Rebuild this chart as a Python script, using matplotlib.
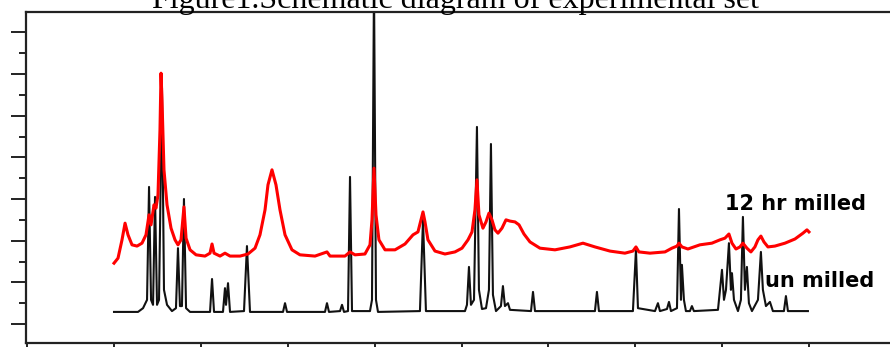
import matplotlib
matplotlib.use("Agg")

import matplotlib.pyplot as plt
from matplotlib.ticker import MultipleLocator, NullFormatter

# 2theta (deg) / intensity (a.u.)
unmilled_2theta = [
    10.00, 12.76, 13.34, 13.80, 14.03, 14.26, 14.49, 14.72, 14.95, 15.18,
    15.52, 15.75, 16.10, 16.67, 17.13, 17.36, 17.59, 17.82, 18.05, 18.29,
    18.75, 21.05, 21.28, 21.51, 22.54, 22.77, 22.89, 23.12, 23.35, 24.96,
    25.30, 25.65, 29.45, 29.68, 29.91, 34.28, 34.51, 34.74, 36.01, 36.24,
    36.47, 36.93, 37.16, 37.39, 39.46, 39.69, 39.92, 40.15, 40.38, 45.21,
    45.56, 45.90, 50.39, 50.62, 50.85, 51.08, 51.43, 51.77, 52.00, 52.35,
    52.81, 53.15, 53.38, 53.61, 53.96, 54.53, 54.76, 54.99, 55.34, 55.57,
    57.99, 58.22, 58.45, 65.35, 65.58, 65.81, 69.72, 70.07, 70.30, 72.26,
    72.60, 72.83, 73.64, 73.87, 74.10, 74.79, 75.02, 75.25, 75.36, 75.59,
    75.82, 76.28, 76.51, 76.74, 79.51, 79.74, 79.97, 80.20, 80.43, 80.77,
    81.00, 81.12, 81.35, 81.81, 82.15, 82.38, 82.61, 82.84, 83.07, 83.42,
    84.11, 84.45, 84.68, 85.03, 85.49, 85.83, 87.10, 87.33, 87.56, 89.86,
]
unmilled_int = [
    29, 29, 38, 58, 329, 58, 46, 305, 46, 58,
    566, 82, 46, 31, 38, 182, 43, 43, 300, 38,
    29, 29, 108, 29, 29, 86, 46, 98, 29, 31,
    187, 29, 29, 50, 29, 29, 50, 29, 31, 46,
    29, 31, 353, 31, 31, 58, 820, 58, 29, 31,
    250, 31, 31, 46, 137, 46, 58, 473, 82, 36,
    38, 82, 432, 70, 31, 43, 91, 43, 50, 34,
    31, 77, 31, 31, 77, 31, 31, 178, 38, 31,
    50, 31, 36, 53, 31, 38, 276, 58, 142, 58,
    31, 31, 43, 31, 34, 82, 130, 58, 82, 194,
    82, 122, 58, 31, 58, 257, 82, 137, 50, 31,
    58, 173, 82, 43, 53, 31, 31, 67, 31, 31,
]

milled_2theta = [
    10.00, 10.46, 10.92, 11.27, 11.61, 12.07, 12.65, 13.22, 13.68, 14.03,
    14.26, 14.60, 14.83, 15.06, 15.29, 15.41, 15.52, 15.75, 16.10, 16.56,
    17.02, 17.36, 17.71, 18.05, 18.29, 18.75, 19.44, 20.47, 21.05, 21.28,
    21.51, 22.20, 22.77, 23.35, 24.50, 25.42, 26.23, 26.80, 27.38, 27.72,
    28.18, 28.64, 29.10, 29.68, 30.48, 31.40, 33.13, 34.51, 34.86, 36.58,
    37.16, 37.73, 38.88, 39.46, 39.69, 39.92, 40.15, 40.49, 41.19, 42.34,
    43.49, 44.41, 44.98, 45.33, 45.56, 45.79, 46.13, 46.94, 48.09, 49.24,
    50.05, 50.74, 51.20, 51.54, 51.77, 52.00, 52.46, 52.81, 53.15, 53.50,
    53.84, 54.19, 54.65, 55.11, 55.57, 56.15, 56.61, 57.18, 57.87, 59.02,
    60.75, 62.47, 63.97, 65.35, 67.08, 68.80, 69.72, 70.07, 70.41, 71.68,
    73.41, 74.21, 74.79, 75.02, 75.36, 76.05, 77.43, 78.81, 79.74, 80.31,
    80.77, 81.12, 81.58, 82.04, 82.38, 82.84, 83.30, 83.76, 84.11, 84.45,
    84.80, 85.26, 86.06, 87.22, 88.37, 89.29, 89.75, 89.98,
]
milled_int = [
    146, 158, 202, 242, 214, 190, 187, 194, 214, 262,
    238, 286, 278, 310, 466, 602, 538, 370, 286, 230,
    202, 190, 202, 281, 206, 178, 166, 163, 170, 192,
    170, 163, 170, 163, 163, 168, 182, 214, 274, 334,
    370, 334, 274, 214, 178, 166, 163, 173, 163, 163,
    173, 166, 168, 190, 250, 374, 262, 202, 178, 178,
    192, 214, 221, 250, 269, 245, 202, 175, 168, 173,
    182, 202, 221, 274, 346, 262, 230, 245, 266, 250,
    226, 218, 230, 250, 247, 245, 238, 216, 197, 182,
    178, 185, 194, 185, 175, 170, 175, 185, 173, 170,
    173, 182, 187, 194, 185, 180, 190, 194, 202, 206,
    216, 194, 180, 185, 194, 182, 173, 185, 202, 211,
    197, 185, 187, 194, 204, 218, 226, 221,
]

plt.rcParams['font.family'] = ['DejaVu Sans']

fig = plt.figure(figsize=(8.9, 3.47), dpi=100)
ax = fig.add_axes([26 / 890, 4 / 347, 1.0, 331 / 347])

ax.plot(unmilled_2theta, unmilled_int, color="#111111", lw=1.5)
ax.plot(milled_2theta, milled_int, color="#ff0000", lw=2.2)

ax.set_xlim(-0.13, 102.3)
ax.set_ylim(-45.6, 748.8)

ax.xaxis.set_major_locator(MultipleLocator(10))
ax.yaxis.set_major_locator(MultipleLocator(100))
ax.yaxis.set_minor_locator(MultipleLocator(50))
ax.xaxis.set_major_formatter(NullFormatter())
ax.yaxis.set_major_formatter(NullFormatter())
ax.tick_params(axis="y", which="major", direction="out", length=11, width=1.4, color="#222222")
ax.tick_params(axis="y", which="minor", direction="out", length=5, width=1.4, color="#222222")
ax.tick_params(axis="x", which="major", direction="out", length=4, width=1.4, color="#222222")

for side in ["left", "bottom", "top"]:
    ax.spines[side].set_linewidth(1.6)
    ax.spines[side].set_color("#222222")
ax.spines["right"].set_visible(False)

ax.text(80.3, 288, "12 hr milled", fontsize=15, fontweight="bold",
        va="center", ha="left", clip_on=False)
ax.text(84.9, 104, "un milled", fontsize=15, fontweight="bold",
        va="center", ha="left", clip_on=False)

fig.text(455 / 890, 1 - 8 / 347, "Figure1.Schematic diagram of experimental set",
         family="Liberation Serif", fontsize=23, ha="center", va="baseline")

fig.savefig("out.png", dpi=100)
